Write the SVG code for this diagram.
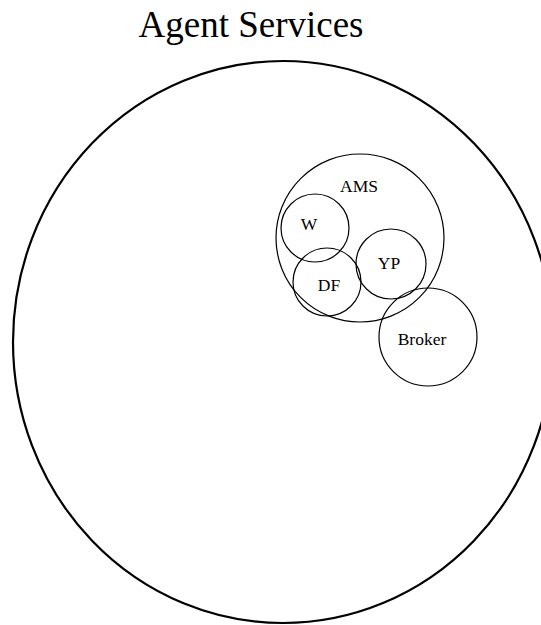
<svg xmlns="http://www.w3.org/2000/svg" width="541" height="625" viewBox="0 0 541 625">
<style>
.big{fill:none;stroke:#000;stroke-width:2.2}
.c{fill:none;stroke:#000;stroke-width:1.2}
.t{font-family:"Liberation Serif","Times New Roman",serif;font-size:17.5px;fill:#000;text-anchor:middle}
.title{font-family:"Liberation Serif","Times New Roman",serif;font-size:37px;fill:#000;text-anchor:middle}
</style>
<rect width="541" height="625" fill="#fff"/>
<g id="agent-services">
<text class="title" x="251" y="37">Agent Services</text>
<ellipse class="big" cx="283" cy="342" rx="270" ry="281"/>
</g>
<g id="ams">
<circle class="c" cx="360" cy="238" r="84"/>
<text class="t" x="359" y="192">AMS</text>
</g>
<g id="w">
<circle class="c" cx="315" cy="228" r="34"/>
<text class="t" x="309" y="230">W</text>
</g>
<g id="df">
<circle class="c" cx="327" cy="282" r="34"/>
<text class="t" x="329" y="291">DF</text>
</g>
<g id="yp">
<circle class="c" cx="391" cy="264" r="35"/>
<text class="t" x="389" y="269">YP</text>
</g>
<g id="broker">
<circle class="c" cx="428" cy="337" r="49"/>
<text class="t" x="422" y="345">Broker</text>
</g>
<g id="connectors"/>
</svg>
